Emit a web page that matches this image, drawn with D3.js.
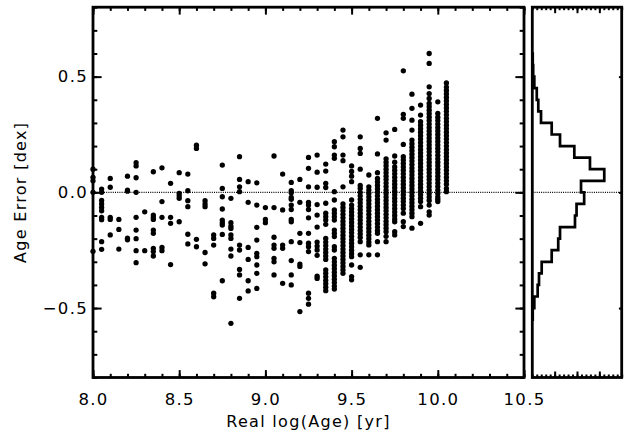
<!DOCTYPE html>
<html>
<head>
<meta charset="utf-8">
<script src="https://cdn.jsdelivr.net/npm/d3@7"></script>
<style>
  body { margin: 0; background: #fff; }
  svg { display: block; }
  text { font-family: "DejaVu Sans", sans-serif; fill: #000; }
  .tick text { font-size: 16.5px; letter-spacing: 1.3px; }
  .tick line { stroke: #000; }
  .domain { display: none; }
</style>
</head>
<body>
<svg width="633" height="434"></svg>
<script>
// x positions of the model grid (log age) and the age errors found at each one
const ages = [8.00, 8.05, 8.10, 8.15, 8.20, 8.25, 8.30, 8.35, 8.40, 8.45,
              8.50, 8.55, 8.60, 8.65, 8.70, 8.75, 8.80, 8.85, 8.90, 8.95,
              9.00, 9.05, 9.10, 9.15, 9.20, 9.25, 9.30, 9.35, 9.40, 9.45,
              9.50, 9.55, 9.60, 9.65, 9.70, 9.75, 9.80, 9.85, 9.90, 9.95,
              10.00, 10.05];

const errors = [
  [0.10, 0.065, 0.05, 0.0, -0.255],
  [0.014, 0.0, -0.035, -0.05, -0.065, -0.08, -0.108, -0.118, -0.213, -0.246],
  [0.06, 0.022, -0.108, -0.117, -0.184],
  [-0.117, -0.16, -0.245],
  [0.07, 0.01, 0.005, -0.198, -0.205],
  [0.128, 0.114, 0.063, 0.0, -0.108, -0.163, -0.2, -0.252, -0.304],
  [-0.084, -0.252],
  [0.089, -0.098, -0.108, -0.117, -0.163, -0.177, -0.242, -0.256, -0.275],
  [0.106, -0.04, -0.108, -0.238, -0.252],
  [0.039, -0.108, -0.134, -0.312],
  [0.085, -0.004, -0.015, -0.026, -0.127],
  [0.079, 0.007, -0.036, -0.062, -0.181, -0.223],
  [0.204, 0.19, -0.203, -0.235],
  [-0.036, -0.05, -0.062, -0.26, -0.309],
  [-0.184, -0.199, -0.228, -0.436, -0.451],
  [0.118, 0.017, -0.019, -0.072, -0.12, -0.131, -0.141, -0.182, -0.382],
  [-0.026, -0.131, -0.146, -0.156, -0.184, -0.199, -0.245, -0.275, -0.566],
  [0.154, 0.056, 0.024, 0.003, -0.228, -0.249, -0.333, -0.357, -0.458],
  [0.046, -0.043, -0.238, -0.29, -0.382, -0.426],
  [0.041, -0.055, -0.151, -0.206, -0.264, -0.278, -0.314, -0.35, -0.415],
  [-0.066, -0.117, -0.131],
  [0.157, -0.066, -0.194, -0.228, -0.242, -0.285, -0.3, -0.357],
  [0.079, -0.076, -0.228, -0.242, -0.393],
  [0.043, 0.007, -0.002, -0.022, -0.03, -0.055, -0.074, -0.117, -0.127, -0.213, -0.295, -0.357, -0.4],
  [0.056, -0.043, -0.177, -0.217, -0.31, -0.32, -0.515],
  [0.151, 0.104, 0.024, -0.043, -0.055, -0.074, -0.11, -0.177, -0.22, -0.235, -0.256, -0.436, -0.458, -0.483],
  [0.161, 0.087, 0.022, -0.053, -0.098, -0.15, -0.215, -0.232, -0.249, -0.272, -0.362, -0.372],
  [0.122, 0.092, 0.039, 0.021, -0.047, -0.09, -0.105, -0.12, -0.138, -0.199, -0.215, -0.23, -0.245,
   -0.26, -0.275, -0.29, -0.335, -0.35, -0.365, -0.38, -0.395, -0.41, -0.425],
  [0.219, 0.197, 0.161, 0.147, 0.003, -0.033, -0.076, -0.09, -0.105, -0.12, -0.163, -0.177, -0.191,
   -0.235, -0.249, -0.285, -0.3, -0.315, -0.33, -0.345, -0.36, -0.375, -0.39, -0.405, -0.418],
  [0.269, 0.24, 0.161, 0.137, 0.024, -0.05, -0.065, -0.08, -0.095, -0.11, -0.125, -0.14, -0.155,
   -0.17, -0.185, -0.2, -0.215, -0.23, -0.245, -0.26, -0.275, -0.29, -0.305, -0.32, -0.335, -0.35],
  [0.114, 0.09, 0.07, 0.046, -0.033, -0.055, -0.07, -0.085, -0.1, -0.115, -0.13, -0.145, -0.16,
   -0.175, -0.19, -0.205, -0.22, -0.235, -0.25, -0.265, -0.278, -0.314, -0.364, -0.378],
  [0.24, 0.19, 0.168, 0.1, 0.03, 0.017, 0.0, -0.015, -0.03, -0.045, -0.06, -0.075, -0.09, -0.105,
   -0.12, -0.135, -0.15, -0.165, -0.18, -0.195, -0.213, -0.27, -0.324],
  [0.075, 0.024, 0.01, -0.005, -0.02, -0.035, -0.05, -0.065, -0.08, -0.095, -0.11, -0.125, -0.14,
   -0.155, -0.17, -0.185, -0.2, -0.215, -0.227, -0.27],
  [0.32, 0.166, 0.085, 0.06, 0.045, 0.03, 0.015, 0.0, -0.015, -0.03, -0.045, -0.06, -0.075, -0.09,
   -0.105, -0.12, -0.135, -0.15, -0.165, -0.177, -0.213, -0.27],
  [0.257, 0.226, 0.145, 0.13, 0.115, 0.1, 0.085, 0.07, 0.055, 0.04, 0.025, 0.01, -0.005, -0.02,
   -0.035, -0.05, -0.065, -0.08, -0.095, -0.11, -0.125, -0.14, -0.155, -0.17, -0.19, -0.213],
  [0.272, 0.157, 0.13, 0.11, 0.095, 0.08, 0.065, 0.05, 0.035, 0.02, 0.005, -0.01, -0.025, -0.04,
   -0.055, -0.07, -0.085, -0.1, -0.115, -0.127, -0.17, -0.184],
  [0.525, 0.337, 0.32, 0.207, 0.154, 0.14, 0.125, 0.11, 0.095, 0.08, 0.065, 0.05, 0.035, 0.02,
   0.005, -0.01, -0.025, -0.04, -0.055, -0.07, -0.09, -0.127, -0.148],
  [0.424, 0.363, 0.312, 0.269, 0.226, 0.21, 0.195, 0.18, 0.165, 0.15, 0.135, 0.12, 0.105, 0.09,
   0.075, 0.06, 0.045, 0.03, 0.015, 0.0, -0.015, -0.03, -0.045, -0.06, -0.075, -0.09, -0.105, -0.155],
  [0.377, 0.334, 0.305, 0.29, 0.275, 0.26, 0.245, 0.23, 0.215, 0.2, 0.185, 0.17, 0.155, 0.14,
   0.125, 0.11, 0.095, 0.08, 0.065, 0.05, 0.035, 0.02, 0.005, -0.01, -0.025, -0.04, -0.062, -0.134],
  [0.60, 0.557, 0.456, 0.427, 0.406, 0.384, 0.37, 0.355, 0.34, 0.325, 0.31, 0.295, 0.28, 0.265,
   0.25, 0.235, 0.22, 0.205, 0.19, 0.175, 0.16, 0.145, 0.13, 0.115, 0.1, 0.085, 0.07, 0.055,
   0.04, 0.025, 0.01, -0.005, -0.02, -0.035, -0.055, -0.084, -0.098],
  [0.391, 0.341, 0.325, 0.31, 0.295, 0.28, 0.265, 0.25, 0.235, 0.22, 0.205, 0.19, 0.175, 0.16,
   0.145, 0.13, 0.115, 0.1, 0.085, 0.07, 0.055, 0.04, 0.025, 0.01, -0.005, -0.02, -0.03, -0.04],
  [0.473, 0.455, 0.44, 0.425, 0.41, 0.395, 0.38, 0.365, 0.35, 0.335, 0.32, 0.305, 0.29, 0.275,
   0.26, 0.245, 0.23, 0.215, 0.2, 0.185, 0.17, 0.155, 0.14, 0.125, 0.11, 0.095, 0.08, 0.065,
   0.05, 0.035, 0.017, 0.003]
];

// histogram of the errors: lower edge of each 0.05 dex bin and its height
const binLo   = [0.55, 0.50, 0.45, 0.40, 0.35, 0.30, 0.25, 0.20, 0.15, 0.10, 0.05, 0.00,
                 -0.05, -0.10, -0.15, -0.20, -0.25, -0.30, -0.35, -0.40, -0.45, -0.50, -0.55];
const binFrac = [0.001, 0.002, 0.0045, 0.010, 0.0134, 0.0195, 0.0434, 0.062, 0.094, 0.129, 0.161, 0.109,
                 0.116, 0.099, 0.0955, 0.062, 0.058, 0.0434, 0.021, 0.015, 0.012, 0.0045, 0.001];
const binWidth = 0.05;

const xTicks = [8.0, 8.5, 9.0, 9.5, 10.0, 10.5];
const yTicks = [-0.5, 0.0, 0.5];

const svg = d3.select("svg");

const plotTop = 7.2, plotBottom = 377.5;
const left = 93, right = 524;        // scatter panel
const hLeft = 532.3, hRight = 621.7; // histogram panel

const x = d3.scaleLinear().domain([8.0, 10.5]).range([left, right]);
const y = d3.scaleLinear().domain([-0.8, 0.8]).range([plotBottom, plotTop]);
const hx = d3.scaleLinear().domain([0, 0.2]).range([hLeft, hRight]);

const fmt = d3.format(".1f");
const minus = v => fmt(v).replace("-", "\u2212");

// ticks are inward, IDL style: long majors, half-length minors
const xMaj = 0.02 * (plotBottom - plotTop), yMaj = 0.02 * (right - left);
const xMinor = d3.range(80, 106).map(v => v / 10);
const yMinor = d3.range(-8, 9).map(v => v / 10);

// bottom + top axes of the scatter panel
svg.append("g").attr("transform", `translate(0,${plotBottom})`)
  .call(d3.axisBottom(x).tickValues(xMinor).tickSize(-xMaj / 2).tickFormat(""));
svg.append("g").attr("transform", `translate(0,${plotBottom})`)
  .call(d3.axisBottom(x).tickValues(xTicks).tickSize(-xMaj).tickPadding(16).tickFormat(fmt));
svg.append("g").attr("transform", `translate(0,${plotTop})`)
  .call(d3.axisTop(x).tickValues(xMinor).tickSize(-xMaj / 2).tickFormat(""));
svg.append("g").attr("transform", `translate(0,${plotTop})`)
  .call(d3.axisTop(x).tickValues(xTicks).tickSize(-xMaj).tickFormat(""));

// left + right axes of the scatter panel
svg.append("g").attr("transform", `translate(${left},0)`)
  .call(d3.axisLeft(y).tickValues(yMinor).tickSize(-yMaj / 2).tickFormat(""));
svg.append("g").attr("transform", `translate(${left},0)`)
  .call(d3.axisLeft(y).tickValues(yTicks).tickSize(-yMaj).tickPadding(5).tickFormat(minus));
svg.append("g").attr("transform", `translate(${right},0)`)
  .call(d3.axisRight(y).tickValues(yMinor).tickSize(-yMaj / 2).tickFormat(""));
svg.append("g").attr("transform", `translate(${right},0)`)
  .call(d3.axisRight(y).tickValues(yTicks).tickSize(-yMaj).tickFormat(""));

// histogram panel axes
const hMinor = d3.range(0, 21).map(v => v / 100);
const hMajor = [0.05, 0.10, 0.15];
[plotTop, plotBottom].forEach(pos => {
  const ax = pos === plotTop ? d3.axisTop : d3.axisBottom;
  svg.append("g").attr("transform", `translate(0,${pos})`)
    .call(ax(hx).tickValues(hMinor).tickSize(-3).tickFormat(""));
  svg.append("g").attr("transform", `translate(0,${pos})`)
    .call(ax(hx).tickValues(hMajor).tickSize(-6).tickFormat(""));
});
svg.append("g").attr("transform", `translate(${hRight},0)`)
  .call(d3.axisRight(y).tickValues(yTicks).tickSize(-0.02 * (hRight - hLeft) - 1).tickFormat(""));

svg.selectAll(".tick line").attr("stroke-width", 2);

// zero lines
svg.selectAll(".zero")
  .data([[left, right], [hLeft, hRight]])
  .enter().append("line")
    .attr("class", "zero")
    .attr("x1", d => d[0]).attr("x2", d => d[1])
    .attr("y1", y(0)).attr("y2", y(0))
    .attr("stroke", "#000")
    .attr("stroke-width", 1.4)
    .attr("stroke-dasharray", "1,1.2");

// scatter dots
const points = ages.flatMap((a, i) => errors[i].map(e => ({ age: a, err: e })));
svg.selectAll(".dot")
  .data(points)
  .enter().append("circle")
    .attr("class", "dot")
    .attr("cx", d => x(d.age))
    .attr("cy", d => y(d.err))
    .attr("r", 2.65)
    .attr("fill", "#000");

// histogram step outline
const steps = [[0, binLo[0] + binWidth]];
binLo.forEach((lo, i) => {
  steps.push([binFrac[i], lo + binWidth]);
  steps.push([binFrac[i], lo]);
});
steps.push([0, binLo[binLo.length - 1]]);

svg.append("path")
  .datum(steps)
  .attr("fill", "none")
  .attr("stroke", "#000")
  .attr("stroke-width", 2.7)
  .attr("stroke-linejoin", "miter")
  .attr("d", d3.line().x(d => hx(d[0])).y(d => y(d[1])));

// frames
svg.selectAll(".frame")
  .data([[left, right], [hLeft, hRight]])
  .enter().append("rect")
    .attr("class", "frame")
    .attr("x", d => d[0]).attr("y", plotTop)
    .attr("width", d => d[1] - d[0]).attr("height", plotBottom - plotTop)
    .attr("fill", "none")
    .attr("stroke", "#000")
    .attr("stroke-width", 2.8);

// axis titles
svg.append("text")
  .attr("x", (left + right) / 2)
  .attr("y", 427)
  .attr("text-anchor", "middle")
  .style("font-size", "16px")
  .style("letter-spacing", "1.3px")
  .text("Real log(Age) [yr]");

svg.append("text")
  .attr("transform", `translate(26,${(plotTop + plotBottom) / 2}) rotate(-90)`)
  .attr("text-anchor", "middle")
  .style("font-size", "16px")
  .style("letter-spacing", "1.3px")
  .text("Age Error [dex]");
</script>
</body>
</html>
